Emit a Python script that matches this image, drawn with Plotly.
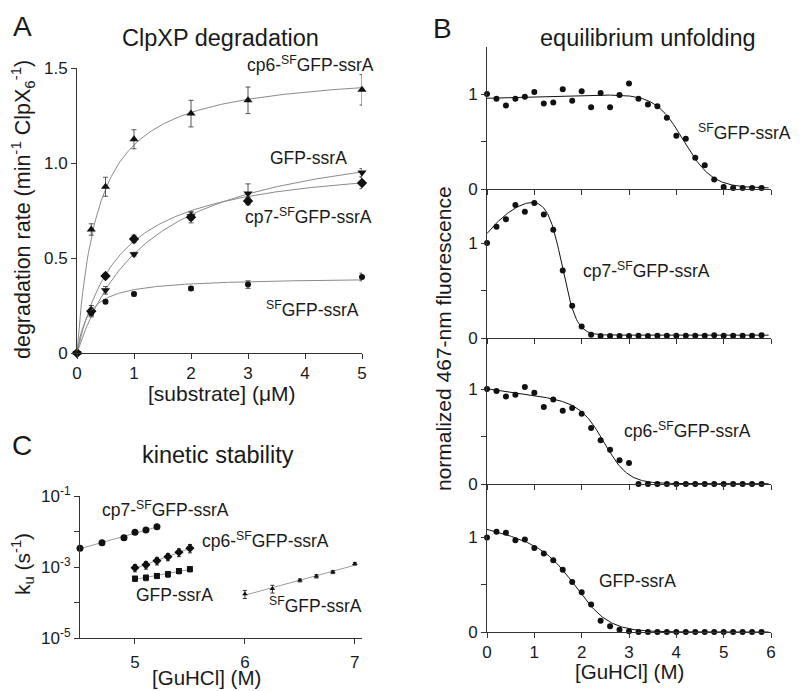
import numpy as np
import plotly.graph_objects as go

FONT = "Liberation Sans, Arial, Helvetica, sans-serif"
# The page body has an 8 px margin, so the figure starts 8 px in from the window corner.
OFF = 8
W, H = 800 - OFF, 691 - OFF
INK = "#1a1a1a"

# ---------------- Panel A: ClpXP degradation ----------------
conc_uM = [0, 0.25, 0.5, 1, 2, 3, 5]
rate_cp6 = [0, 0.65, 0.875, 1.125, 1.26, 1.33, 1.385]
err_cp6 = [0, 0.03, 0.05, 0.05, 0.07, 0.07, 0.08]
rate_gfp = [0, 0.215, 0.33, 0.52, 0.72, 0.84, 0.95]
err_gfp = [0, 0.02, 0.02, 0.01, 0.02, 0.05, 0.02]
rate_cp7 = [0, 0.22, 0.405, 0.60, 0.715, 0.80, 0.895]
err_cp7 = [0, 0.03, 0.01, 0.02, 0.03, 0.02, 0.03]
rate_sf = [0, 0.21, 0.27, 0.31, 0.34, 0.36, 0.40]
err_sf = [0, 0.01, 0.01, 0.01, 0.01, 0.02, 0.02]
# Michaelis-Menten fit parameters (Vmax, Km)
mm_names = ["cp6", "gfp", "cp7", "sf"]
mm_vmax = [1.50, 1.20, 1.03, 0.40]
mm_km = [0.37, 1.30, 0.75, 0.20]

# ---------------- Panel B: equilibrium unfolding ----------------
guhcl_M = [0.0, 0.2, 0.4, 0.6, 0.8, 1.0, 1.2, 1.4, 1.6, 1.8, 2.0, 2.2, 2.4, 2.6, 2.8,
           3.0, 3.2, 3.4, 3.6, 3.8, 4.0, 4.2, 4.4, 4.6, 4.8, 5.0, 5.2, 5.4, 5.6, 5.8]
fluor_sf = [1.00, 0.95, 0.88, 0.95, 0.97, 1.02, 0.90, 0.91, 1.05, 0.93, 1.03, 0.86, 1.01, 0.86, 0.99,
            1.11, 0.95, 0.89, 0.87, 0.75, 0.56, 0.53, 0.33, 0.25, 0.10, 0.02, 0.01, 0.01, 0.01, 0.01]
fluor_cp7 = [1.00, 1.17, 1.25, 1.40, 1.33, 1.42, 1.30, 1.14, 0.71, 0.34, 0.12, 0.035, 0.02, 0.02, 0.02,
             0.02, 0.025, 0.02, 0.025, 0.025, 0.025, 0.025, 0.025, 0.025, 0.03, 0.025, 0.025, 0.025, 0.025, 0.03]
fluor_cp6 = [1.00, 0.98, 0.92, 0.94, 1.02, 0.96, 0.81, 0.89, 0.77, 0.80, 0.74, 0.59, 0.46, 0.36, 0.25,
             0.22, 0.0, 0.0, 0.0, 0.0, 0.0, 0.0, 0.0, 0.0, 0.0, 0.0, 0.0, 0.0, 0.0, 0.0]
fluor_gfp = [1.00, 1.06, 1.05, 0.97, 0.98, 0.89, 0.83, 0.76, 0.66, 0.53, 0.42, 0.29, 0.12, 0.06, 0.025,
             0.007, 0.0, 0.0, 0.0, 0.0, 0.0, 0.0, 0.0, 0.0, 0.0, 0.0, 0.0, 0.0, 0.0, 0.0]
# two-state fit parameters: (a + b x + c x^2)/(1+exp((x-m)/w)) + d
eq_a = [0.945, 1.07, 1.00, 1.09]
eq_b = [0.015, 0.60, -0.07, -0.12]
eq_c = [0.0, -0.25, 0.0, 0.0]
eq_m = [4.15, 1.60, 2.50, 1.95]
eq_w = [0.30, 0.15, 0.25, 0.35]
eq_d = [0.01, 0.03, 0.003, 0.0]

# ---------------- Panel C: kinetic stability ----------------
gu_cp7 = [4.5, 4.7, 4.9, 5.0, 5.1, 5.2]
ku_cp7 = [3.4e-3, 4.8e-3, 6.7e-3, 9.5e-3, 1.1e-2, 1.35e-2]
kerr_cp7 = [3e-4, 4e-4, 5e-4, 8e-4, 1e-3, 1.3e-3]
gu_cp6 = [5.0, 5.1, 5.2, 5.3, 5.4, 5.5]
ku_cp6 = [9.5e-4, 1.15e-3, 1.5e-3, 1.95e-3, 2.6e-3, 3.4e-3]
kerr_cp6 = [2.2e-4, 2.8e-4, 3.6e-4, 4.5e-4, 6.5e-4, 9e-4]
gu_gfp = [5.0, 5.1, 5.2, 5.3, 5.4, 5.5]
ku_gfp = [4.7e-4, 5.0e-4, 5.6e-4, 6.3e-4, 7.7e-4, 8.7e-4]
kerr_gfp = [8e-5, 9e-5, 9e-5, 1.2e-4, 1.3e-4, 1.4e-4]
gu_sf = [6.0, 6.25, 6.5, 6.65, 6.8, 7.0]
ku_sf = [1.74e-4, 2.45e-4, 4.2e-4, 5.5e-4, 7.2e-4, 1.23e-3]
kerr_sf = [4.5e-5, 6e-5, 4e-5, 6e-5, 7e-5, 1e-4]


def fx(p):
    return (p - OFF) / W


def fy(p):
    return 1 - (p - OFF) / H


fig = go.Figure()

axis_common = dict(showline=True, linecolor="#333", linewidth=1, ticks="outside", ticklen=5,
                   tickcolor="#333", tickwidth=1, showgrid=False, zeroline=False, automargin=False,
                   tickfont=dict(family=FONT, size=17, color=INK), fixedrange=True)

# ---- Panel A traces ----
a_series = [
    ("cp6", rate_cp6, err_cp6, "triangle-up", 8),
    ("gfp", rate_gfp, err_gfp, "triangle-down", 8),
    ("cp7", rate_cp7, err_cp7, "diamond", 8),
    ("sf", rate_sf, err_sf, "circle", 6),
]
s_fine = np.linspace(0, 5, 200)
for (name, ys, es, sym, sz) in a_series:
    i = mm_names.index(name)
    fig.add_trace(go.Scatter(x=s_fine, y=mm_vmax[i] * s_fine / (mm_km[i] + s_fine), mode="lines",
                             line=dict(color="#8a8a8a", width=1), xaxis="x", yaxis="y",
                             showlegend=False, hoverinfo="skip", cliponaxis=False))
    fig.add_trace(go.Scatter(x=conc_uM, y=ys, mode="markers",
                             marker=dict(symbol=sym, size=sz, color="#111"),
                             error_y=dict(type="data", array=es, color="#555", thickness=1, width=2.5),
                             xaxis="x", yaxis="y", showlegend=False, cliponaxis=False))

# ---- Panel B traces ----
b_series = [fluor_sf, fluor_cp7, fluor_cp6, fluor_gfp]
g_fine = np.linspace(0, 5.95, 300)
for k, ys in enumerate(b_series):
    xa = "x%d" % (k + 3)
    ya = "y%d" % (k + 3)
    fit = (eq_a[k] + eq_b[k] * g_fine + eq_c[k] * g_fine ** 2) / (1 + np.exp((g_fine - eq_m[k]) / eq_w[k])) + eq_d[k]
    fig.add_trace(go.Scatter(x=g_fine, y=fit, mode="lines", line=dict(color="#111", width=1),
                             xaxis=xa, yaxis=ya, showlegend=False, hoverinfo="skip", cliponaxis=False))
    fig.add_trace(go.Scatter(x=guhcl_M, y=ys, mode="markers", marker=dict(symbol="circle", size=6, color="#111"),
                             xaxis=xa, yaxis=ya, showlegend=False, cliponaxis=False))

# ---- Panel C traces ----
c_series = [
    (gu_cp7, ku_cp7, kerr_cp7, "circle", 7),
    (gu_cp6, ku_cp6, kerr_cp6, "diamond", 7),
    (gu_gfp, ku_gfp, kerr_gfp, "square", 6),
    (gu_sf, ku_sf, kerr_sf, "triangle-up", 5),
]
for (xs, ys, es, sym, sz) in c_series:
    coef = np.polyfit(xs, np.log10(ys), 1)
    xl = np.array([xs[0], xs[-1]])
    fig.add_trace(go.Scatter(x=xl, y=10 ** np.polyval(coef, xl), mode="lines",
                             line=dict(color="#9a9a9a", width=1), xaxis="x2", yaxis="y2",
                             showlegend=False, hoverinfo="skip", cliponaxis=False))
    fig.add_trace(go.Scatter(x=xs, y=ys, mode="markers", marker=dict(symbol=sym, size=sz, color="#111"),
                             error_y=dict(type="data", array=es, color="#333", thickness=1, width=2),
                             xaxis="x2", yaxis="y2", showlegend=False, cliponaxis=False))

layout = dict(
    template="none",
    width=W, height=H, autosize=False,
    margin=dict(l=0, r=0, t=0, b=0, pad=0),
    paper_bgcolor="white", plot_bgcolor="white",
    font=dict(family=FONT, color=INK),
    showlegend=False,
)

# Panel A axes
layout["xaxis"] = dict(axis_common, domain=[fx(77), fx(362)], range=[0, 5], tickvals=[0, 1, 2, 3, 4, 5],
                       anchor="y")
layout["yaxis"] = dict(axis_common, domain=[fy(353), fy(68)], range=[0, 1.5], tickvals=[0, 0.5, 1.0, 1.5],
                       ticktext=["0", "0.5", "1.0", "1.5"], anchor="x")
# Panel C axes
layout["xaxis2"] = dict(axis_common, domain=[fx(80), fx(362)], range=[4.5, 7.065], tickvals=[5, 6, 7],
                        ticklabelstandoff=4, anchor="y2")
layout["yaxis2"] = dict(axis_common, type="log", domain=[fy(638), fy(496)], range=[-5, -1],
                        tickvals=[1e-5, 1e-4, 1e-3, 1e-2, 1e-1],
                        ticktext=["10<sup>-5</sup>", "", "10<sup>-3</sup>", "", "10<sup>-1</sup>"],
                        anchor="x2")
# Panel B axes (4 stacked)
b_dom = [(189, 47, 95.0), (338, 189, 95.0), (484, 338, 95.0), (632, 484, 94.5)]
for k, (bot, top, ppu) in enumerate(b_dom):
    n = k + 3
    tv = [0, 0.5, 1, 1.5] if k == 0 else [0, 0.5, 1]
    tt = ["0", "", "1", ""] if k == 0 else ["0", "", "1"]
    layout["xaxis%d" % n] = dict(axis_common, domain=[fx(487), fx(771)], range=[0, 6],
                                 tickvals=[0, 1, 2, 3, 4, 5, 6], showticklabels=(k == 3),
                                 anchor="y%d" % n)
    layout["yaxis%d" % n] = dict(axis_common, domain=[fy(bot), fy(top)], range=[0, (bot - top) / ppu],
                                 tickvals=tv, ticktext=tt, anchor="x%d" % n)


def ann(text, px, py, size=17.5, angle=0):
    return dict(text=text, x=fx(px), y=fy(py), xref="paper", yref="paper", showarrow=False,
                xanchor="center", yanchor="middle", textangle=angle, borderpad=0,
                font=dict(family=FONT, size=size, color=INK))


SF = "<sup>SF</sup>"
annotations = [
    ann("A", 22, 27, 28), ann("B", 442, 28, 28), ann("C", 22, 445, 28),
    ann("ClpXP degradation", 220, 38, 23.5),
    ann("equilibrium unfolding", 648, 38, 23.5),
    ann("kinetic stability", 218, 455, 23.5),
    # Panel A labels
    ann("cp6-" + SF + "GFP-ssrA", 310, 64),
    ann("GFP-ssrA", 308, 158),
    ann("cp7-" + SF + "GFP-ssrA", 308, 216),
    ann(SF + "GFP-ssrA", 312, 309),
    # Panel B labels
    ann(SF + "GFP-ssrA", 744, 132),
    ann("cp7-" + SF + "GFP-ssrA", 646, 270),
    ann("cp6-" + SF + "GFP-ssrA", 687, 430),
    ann("GFP-ssrA", 637, 581),
    # Panel C labels
    ann("cp7-" + SF + "GFP-ssrA", 165, 509),
    ann("cp6-" + SF + "GFP-ssrA", 265, 540),
    ann("GFP-ssrA", 174, 595),
    ann(SF + "GFP-ssrA", 315, 605),
    # axis titles
    ann("[substrate] (μM)", 221, 393, 21),
    ann("degradation rate (min<sup>-1</sup> ClpX<sub>6</sub><sup>-1</sup>)", 22, 210, 21.5, -90),
    ann("[GuHCl] (M)", 207, 677, 20.5),
    ann("k<sub>u</sub> (s<sup>-1</sup>)", 22, 564, 21, -90),
    ann("[GuHCl] (M)", 629, 671, 20.5),
    ann("normalized 467-nm fluorescence", 443, 338, 21, -90),
]
layout["annotations"] = annotations

fig.update_layout(**layout)
fig.write_html("out.html")
